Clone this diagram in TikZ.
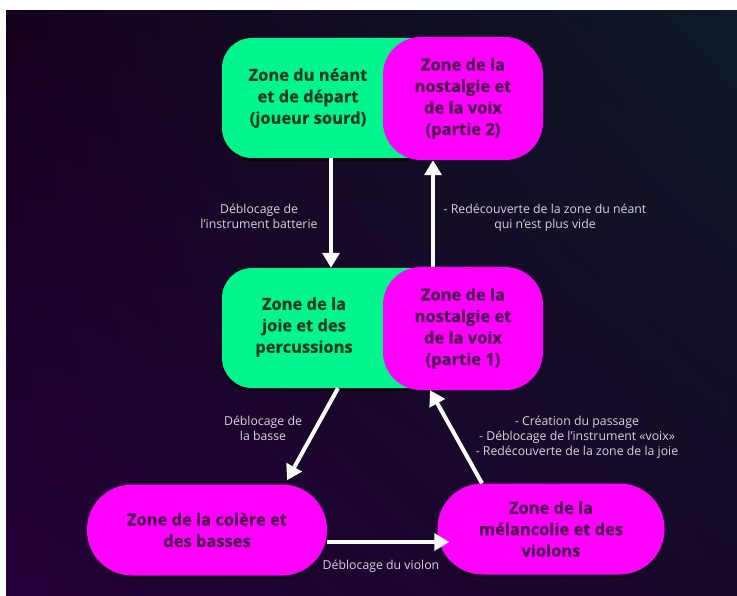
\documentclass[tikz,border=0pt]{standalone}
\usepackage{fontspec}
\setmainfont[BoldFeatures={FakeBold=0.8}]{Open Sans}
\usetikzlibrary{arrows.meta,calc,shadows,shadings}
\definecolor{zgreen}{RGB}{0,245,140}
\definecolor{zmag}{RGB}{255,0,255}
\definecolor{zgtext}{RGB}{18,60,34}
\definecolor{zmtext}{RGB}{78,0,80}
\definecolor{labcol}{RGB}{218,210,224}
\definecolor{bgUL}{RGB}{20,0,30}
\definecolor{bgUR}{RGB}{14,26,38}
\definecolor{bgLL}{RGB}{36,0,56}
\definecolor{bgLR}{RGB}{22,8,40}
\tikzset{
  shad/.style={general shadow={fill=black, opacity=.45, shadow yshift=-3pt}},
  greenbox/.style={shad, fill=zgreen, rounded corners=30pt, minimum width=218pt, minimum height=120pt, inner sep=0pt},
  magbox/.style={fill=zmag, rounded corners=38pt, minimum width=160pt, minimum height=123pt, inner sep=0pt,
    font=\bfseries\fontsize{16.5}{21.5}\selectfont, text=zmtext, align=center},
  pill/.style={shad, fill=zmag, rounded corners=45pt, minimum height=91pt, inner sep=0pt,
    font=\bfseries\fontsize{16.5}{21.5}\selectfont, text=zmtext, align=center},
  gtext/.style={font=\bfseries\fontsize{16.5}{21.5}\selectfont, text=zgtext, align=center},
  lab/.style={font=\fontsize{12.3}{15}\selectfont, text=labcol, align=center},
  arr/.style={draw=white, line width=4pt, -{Triangle[width=17pt,length=15pt]}}
}
\begin{document}
\begin{tikzpicture}[x=1pt,y=1pt]
\useasboundingbox (0,0) rectangle (737,-596);
\fill[white] (0,0) rectangle (737,-596);
\shade[upper left=bgUL, upper right=bgUR, lower left=bgLL, lower right=bgLR] (6,-11) rectangle (737,-596);

% top composite
\node[greenbox] (g1) at (331,-98) {};
\node[gtext] (g1t) at (308,-98) {Zone du néant\\et de départ\\(joueur sourd)};
\node[magbox] (m1) at (463,-98.5) {Zone de la\\nostalgie et\\de la voix\\(partie 2)};

% middle composite
\node[greenbox] (g2) at (331,-328) {};
\node[gtext] (g2t) at (304,-327) {Zone de la\\joie et des\\percussions};
\node[magbox] (m2) at (463,-328.5) {Zone de la\\nostalgie et\\de la voix\\(partie 1)};

% bottom
\node[pill, minimum width=240pt] (b1) at (207,-530) {Zone de la colère et\\des basses};
\node[pill, minimum width=227pt] (b2) at (551,-529) {Zone de la\\mélancolie et des\\violons};

% arrows
\draw[arr] (g1.south) -- (g2.north);
\draw[arr] ([xshift=-30pt]m2.north) -- ([xshift=-30pt]m1.south);
\draw[arr] ([xshift=7pt]g2.south) -- ([xshift=80pt,yshift=4pt]b1.north);
\draw[arr] ([yshift=-12pt]b1.east) -- ([yshift=-12pt,xshift=12pt]b1.east -| b2.west);
\draw[arr] ([xshift=-69pt]b2.north) -- ([xshift=-33pt]m2.south);

% labels
\node[lab] (l1) at (259,-216) {Déblocage de\\l’instrument batterie};
\node[lab] (l2) at (545,-218) {- Redécouverte de la zone du néant\\qui n’est plus vide};
\node[lab] (l3) at (263,-428) {Déblocage de\\la basse};
\node[lab] (l4) at (577,-437) {- Création du passage\\- Déblocage de l’instrument «voix»\\- Redécouverte de la zone de la joie};
\node[lab] (l5) at (381,-566) {Déblocage du violon};
\end{tikzpicture}
\end{document}
